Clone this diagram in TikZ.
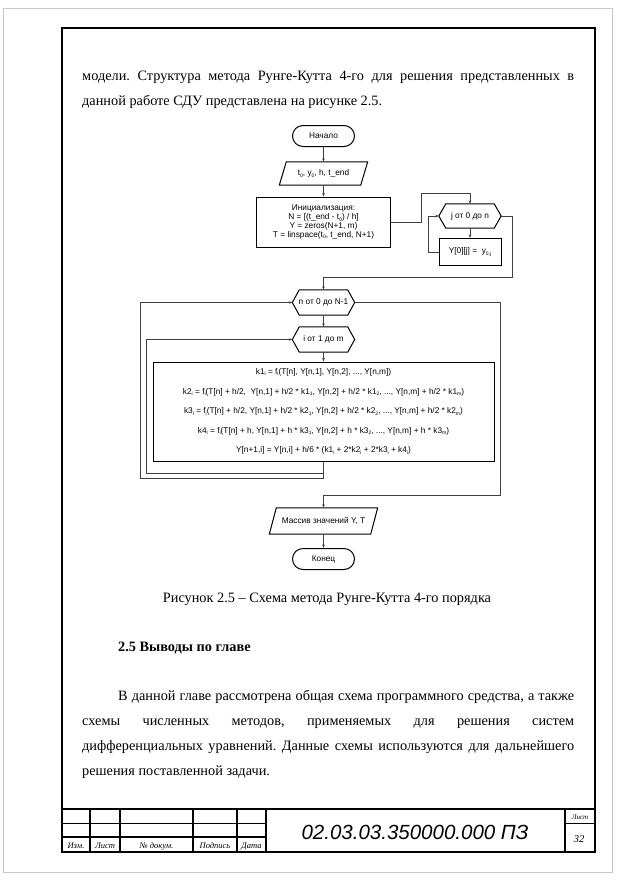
\documentclass[tikz,border=0pt]{standalone}
\usepackage{fontspec}
\setmainfont{Liberation Serif}
\newfontfamily\arialf{Liberation Sans}
\usetikzlibrary{arrows.meta,calc}
\frenchspacing
\newcommand{\mysub}[1]{\raisebox{-0.35ex}{\fontsize{5}{5}\selectfont #1}}
\newcommand{\hexdraw}[1]{\draw[shp] (#1.west) -- ([xshift=7pt]#1.north west) -- ([xshift=-7pt]#1.north east) -- (#1.east) -- ([xshift=-7pt]#1.south east) -- ([xshift=7pt]#1.south west) -- cycle;}
\newcommand{\paradraw}[1]{\draw[shp] ([xshift=7pt]#1.north west) -- (#1.north east) -- ([xshift=-7pt]#1.south east) -- (#1.south west) -- cycle;}
\tikzset{
  fc/.style={font=\arialf\fontsize{8.3}{8.7}\selectfont, inner sep=0pt, align=center},
  shp/.style={draw=black, line width=1pt},
  arr/.style={draw=black!75, line width=0.6pt, -{Stealth[length=3.5pt,width=2.6pt]}},
  ln/.style={draw=black!75, line width=0.6pt},
  body/.style={font=\fontsize{14.3}{17}\selectfont, inner sep=0pt, anchor=base west},
  tb/.style={line width=1.3pt},
  tbt/.style={line width=0.7pt},
  lbl/.style={font=\itshape\fontsize{8.5}{9}\selectfont, inner sep=0pt, anchor=base}
}
\begin{document}
\begin{tikzpicture}[x=1pt,y=-1pt]
\fill[white] (0,0) rectangle (618,881);
\useasboundingbox (0,0) rectangle (618,881);
% page borders
\draw[black!22, line width=0.8pt] (3,8) rectangle (612,872);
\draw[line width=1.4pt] (62,28) rectangle (595,852);
% body text
\node[body] (t1) at (82,80.5) {\makebox[492pt][s]{модели. Структура метода Рунге-Кутта 4-го для решения представленных в}};
\node[body] (t2) at (82,105.5) {данной работе СДУ представлена на рисунке 2.5.};
% flowchart
\node[fc, shp, rounded corners=10.5pt, minimum width=62pt, minimum height=21pt] (start) at (323.5,136) {Начало};
\node[fc, minimum width=88pt, minimum height=23pt] (inp) at (323.5,173.5) {t\mysub{0}, y\mysub{0}, h, t\_end};
\paradraw{inp}
\node[fc, shp, minimum width=134pt, minimum height=50pt] (init) at (323.5,222) {Инициализация:\\N = [(t\_end - t\mysub{0}) / h]\\Y = zeros(N+1, m)\\T = linspace(t\mysub{0}, t\_end, N+1)};
\node[fc, minimum width=62pt, minimum height=24pt] (jl) at (470,216) {j от 0 до n};
\hexdraw{jl}
\node[fc, shp, minimum width=62pt, minimum height=27pt] (jb) at (470,252) {Y[0][j] =\ \ y\mysub{0,j}};
\node[fc, minimum width=62pt, minimum height=25pt] (nl) at (323.5,302.5) {n от 0 до N-1};
\hexdraw{nl}
\node[fc, minimum width=62pt, minimum height=25pt] (il) at (323.5,339.5) {i от 1 до m};
\hexdraw{il}
\node[fc, shp, font=\arialf\fontsize{8.3}{19.6}\selectfont, minimum width=341pt, minimum height=99pt] (fbox) at (323.5,411.5) {k1\mysub{i} = f\mysub{i}(T[n], Y[n,1], Y[n,2], ..., Y[n,m])\\
k2\mysub{i} = f\mysub{i}(T[n] + h/2,\ \ Y[n,1] + h/2 * k1\mysub{1}, Y[n,2] + h/2 * k1\mysub{2}, ..., Y[n,m] + h/2 * k1\mysub{m})\\
k3\mysub{i} = f\mysub{i}(T[n] + h/2, Y[n,1] + h/2 * k2\mysub{1}, Y[n,2] + h/2 * k2\mysub{2}, ..., Y[n,m] + h/2 * k2\mysub{m})\\
k4\mysub{i} = f\mysub{i}(T[n] + h, Y[n,1] + h * k3\mysub{1}, Y[n,2] + h * k3\mysub{2}, ..., Y[n,m] + h * k3\mysub{m})\\
Y[n+1,i] = Y[n,i] + h/6 * (k1\mysub{i} + 2*k2\mysub{i} + 2*k3\mysub{i} + k4\mysub{i})};
\node[fc, minimum width=108pt, minimum height=26pt] (out) at (323.5,521) {Массив значений Y, T};
\paradraw{out}
\node[fc, shp, rounded corners=10.5pt, minimum width=62pt, minimum height=21pt] (end) at (323.5,559) {Конец};
\coordinate (jn) at (323.5,473);
% connectors
\draw[arr] (start) -- (inp);
\draw[arr] (inp) -- (init);
\draw[arr] (init.east) -- (421,222) -- (421,193) -| (jl.north);
\draw[arr] (jl) -- (jb);
\draw[arr] (jb.west) -- (428,252) |- (jl.west);
\draw[arr] (jl.east) -- (512,216) -- (512,277) -| (nl.north);
\draw[arr] (nl) -- (il);
\draw[arr] (il) -- (fbox);
\draw[arr] (fbox.south) -- (jn) -- (146,473) |- (il.west);
\draw[arr] (jn) -- (323.5,478.5) -- (140,478.5) |- (nl.west);
\draw[arr] (nl.east) -- (500,302.5) -- (500,495) -| (out.north);
\draw[arr] (out) -- (end);
% caption and text
\node[body, anchor=base] (cap) at (327,602.5) {Рисунок 2.5 -- Схема метода Рунге-Кутта 4-го порядка};
\node[body, font=\bfseries\fontsize{14.3}{17}\selectfont] (h25) at (118,651.5) {2.5 Выводы по главе};
\node[body] (p1) at (118,700.5) {\makebox[456pt][s]{В данной главе рассмотрена общая схема программного средства, а также}};
\node[body] (p2) at (82,725.5) {\makebox[492pt][s]{схемы численных методов, применяемых для решения систем}};
\node[body] (p3) at (82,750.5) {\makebox[492pt][s]{дифференциальных уравнений. Данные схемы используются для дальнейшего}};
\node[body] (p4) at (82,775.5) {решения поставленной задачи.};
% title block
\draw[tb] (62,809) -- (595,809);
\foreach \xx in {90,120,193,237,266,565} { \draw[tb] (\xx,809) -- (\xx,852); }
\draw[tbt] (62,823) -- (266,823);
\draw[tb] (62,837) -- (266,837);
\draw[tbt] (565,823) -- (595,823);
\node[lbl] (l1) at (76,848) {Изм.};
\node[lbl] (l2) at (105,848) {Лист};
\node[lbl] (l3) at (156.5,848) {№ докум.};
\node[lbl] (l4) at (215,848) {Подпись};
\node[lbl] (l5) at (251.5,848) {Дата};
\node[lbl, font=\itshape\fontsize{7}{8}\selectfont] (l6) at (580,819) {Лист};
\node[lbl, font=\itshape\fontsize{10.5}{11}\selectfont] (l7) at (579,842) {32};
\node[font=\arialf\itshape\fontsize{20.5}{21}\selectfont, inner sep=0pt] (doc) at (415,832) {02.03.03.350000.000 ПЗ};
\end{tikzpicture}
\end{document}
